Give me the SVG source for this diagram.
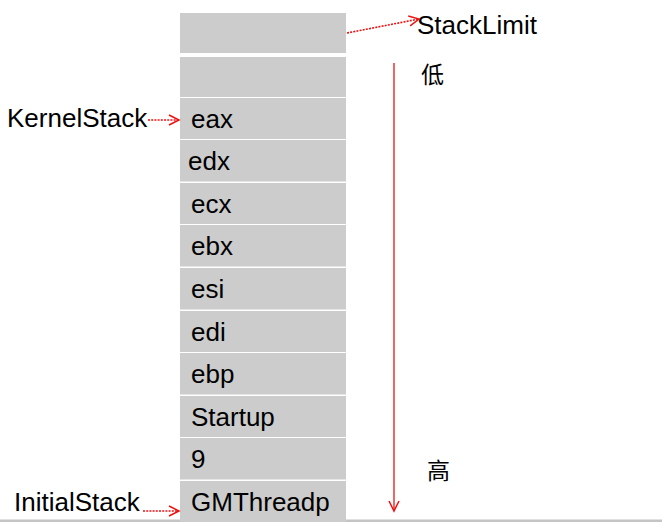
<svg xmlns="http://www.w3.org/2000/svg" width="662" height="522" viewBox="0 0 662 522">
<style>
.cell{fill:#cccccc}
.lbl{font-family:"Liberation Sans",Arial,sans-serif;font-size:26px;fill:#000}
.cjk{font-family:"Noto Sans CJK SC",sans-serif;font-size:23px;fill:#000}
.dot{stroke:#ee1111;stroke-width:1.6;stroke-dasharray:2 1.2;fill:none}
.solid{stroke:#ee1111;stroke-width:1.3;fill:none}
</style>
<defs>
<marker id="arr" markerUnits="userSpaceOnUse" markerWidth="12" markerHeight="12" refX="10" refY="5" orient="auto" overflow="visible">
<path d="M0,0 L10,5 L0,10" fill="none" stroke="#ee1111" stroke-width="1.5"/>
</marker>
</defs>
<rect x="0" y="519.5" width="662" height="2.5" fill="#c4c4c4"/>
<g id="cell-top"><rect class="cell" x="180" y="13" width="166" height="40"/></g>
<g id="cell-empty"><rect class="cell" x="180" y="57" width="166" height="40"/></g>
<g id="cell-eax"><rect class="cell" x="180" y="98" width="166" height="41"/><text class="lbl" x="191" y="128">eax</text></g>
<g id="cell-edx"><rect class="cell" x="180" y="140" width="166" height="41.5"/><text class="lbl" x="188" y="170">edx</text></g>
<g id="cell-ecx"><rect class="cell" x="180" y="183" width="166" height="41"/><text class="lbl" x="191" y="213">ecx</text></g>
<g id="cell-ebx"><rect class="cell" x="180" y="225" width="166" height="41.5"/><text class="lbl" x="191" y="255">ebx</text></g>
<g id="cell-esi"><rect class="cell" x="180" y="268" width="166" height="41.5"/><text class="lbl" x="191" y="298">esi</text></g>
<g id="cell-edi"><rect class="cell" x="180" y="311" width="166" height="41"/><text class="lbl" x="191" y="341">edi</text></g>
<g id="cell-ebp"><rect class="cell" x="180" y="353" width="166" height="41.5"/><text class="lbl" x="191" y="383">ebp</text></g>
<g id="cell-startup"><rect class="cell" x="180" y="396" width="166" height="41"/><text class="lbl" x="191" y="426">Startup</text></g>
<g id="cell-9"><rect class="cell" x="180" y="438" width="166" height="41.5"/><text class="lbl" x="191" y="468">9</text></g>
<g id="cell-gmthreadp"><rect class="cell" x="180" y="481" width="166" height="41"/><text class="lbl" x="191" y="511">GMThreadp</text></g>
<g id="label-stacklimit"><text class="lbl" x="417" y="34">StackLimit</text></g>
<g id="label-kernelstack"><text class="lbl" x="7" y="127">KernelStack</text></g>
<g id="label-initialstack"><text class="lbl" x="14" y="511">InitialStack</text></g>
<g id="label-low"><text class="cjk" x="421" y="83">低</text></g>
<g id="label-high"><text class="cjk" x="427" y="479">高</text></g>
<g id="connectors">
<path class="dot" d="M347,33 L419,19" marker-end="url(#arr)"/>
<path class="dot" d="M148,120 L179,120" marker-end="url(#arr)"/>
<path class="dot" d="M143,511 L179,511" marker-end="url(#arr)"/>
<path class="solid" d="M394,63 L394,511" marker-end="url(#arr)"/>
</g>
</svg>
